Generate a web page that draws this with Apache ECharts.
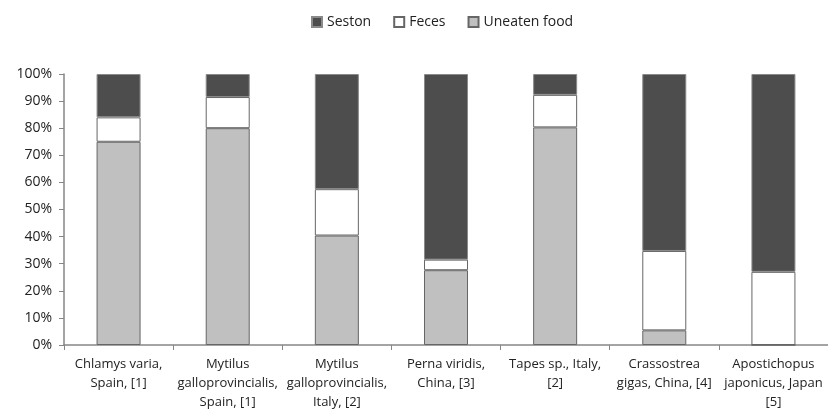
<!DOCTYPE html>
<html>
<head>
<meta charset="utf-8">
<script src="https://cdn.jsdelivr.net/npm/echarts@6/dist/echarts.min.js"></script>
<style>html,body{margin:0;padding:0;background:#fff;}#c{width:828px;height:412px;}</style>
</head>
<body>
<div id="c"></div>
<script>
const categories = [
  "Chlamys varia,\nSpain, [1]",
  "Mytilus\ngalloprovincialis,\nSpain, [1]",
  "Mytilus\ngalloprovincialis,\nItaly, [2]",
  "Perna viridis,\nChina, [3]",
  "Tapes sp., Italy,\n[2]",
  "Crassostrea\ngigas, China, [4]",
  "Apostichopus\njaponicus, Japan\n[5]"
];
const uneatenFood = [75, 80, 40.4, 27.6, 80.3, 5.4, 0];
const feces = [9, 11.5, 17.1, 3.9, 12, 29.3, 27];
const seston = [16, 8.5, 42.5, 68.5, 7.7, 65.3, 73];
const yTicks = { min: 0, max: 100, interval: 10 };

const font = "'Open Sans', 'Noto Sans', sans-serif";
const chart = echarts.init(document.getElementById('c'));
const border = { borderColor: '#666666', borderWidth: 1 };
chart.setOption({
  animation: false,
  textStyle: { fontFamily: font },
  legend: {
    top: 10, left: 306, itemGap: 22, itemWidth: 10, itemHeight: 10,
    icon: 'rect',
    textStyle: { fontFamily: font, fontSize: 14, color: '#222' },
    data: ['Seston', 'Feces', 'Uneaten food']
  },
  grid: { left: 64, top: 74, bottom: 65, right: -8, containLabel: false },
  xAxis: {
    type: 'category', data: categories,
    axisLine: { lineStyle: { color: '#868686', width: 1.5 } },
    axisTick: { show: true, length: 5, lineStyle: { color: '#868686' } },
    axisLabel: { interval: 0, color: '#222', fontSize: 13, lineHeight: 19, margin: 10, fontFamily: font }
  },
  yAxis: {
    type: 'value', min: yTicks.min, max: yTicks.max, interval: yTicks.interval,
    axisLine: { show: true, lineStyle: { color: '#868686', width: 1.5 } },
    axisTick: { show: true, length: 5, lineStyle: { color: '#868686' } },
    splitLine: { show: false },
    axisLabel: { formatter: '{value}%', color: '#222', fontSize: 14, margin: 12, fontFamily: font }
  },
  series: [
    { name: 'Uneaten food', type: 'bar', stack: 's', data: uneatenFood, barWidth: 44,
      itemStyle: Object.assign({ color: '#c0c0c0' }, border) },
    { name: 'Feces', type: 'bar', stack: 's', data: feces, barWidth: 44,
      itemStyle: Object.assign({ color: '#ffffff' }, border) },
    { name: 'Seston', type: 'bar', stack: 's', data: seston, barWidth: 44,
      itemStyle: { color: '#4d4d4d', borderColor: '#8a8a8a', borderWidth: 1 } }
  ]
});
</script>
</body>
</html>
